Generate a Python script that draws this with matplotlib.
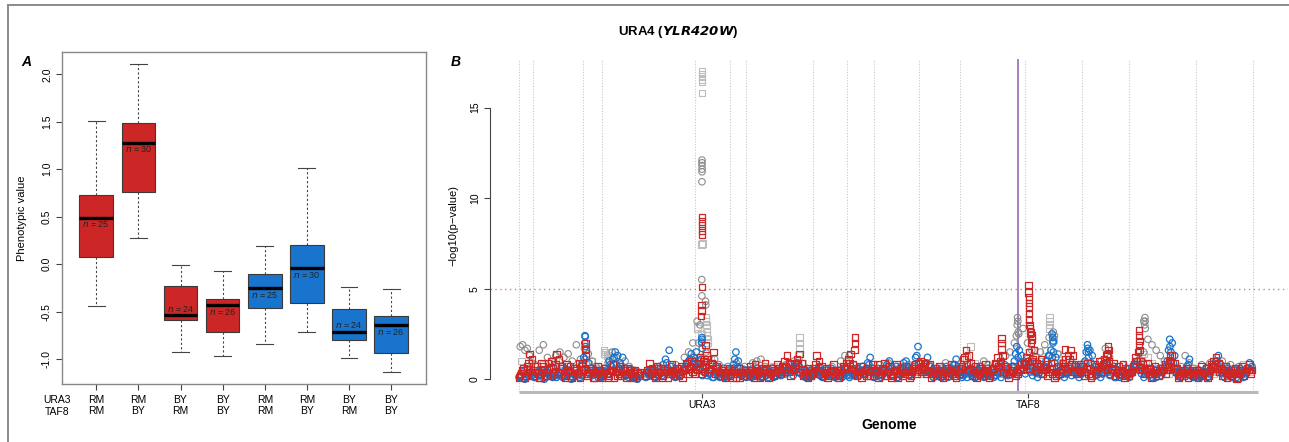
import numpy as np
import matplotlib
matplotlib.use("Agg")
import matplotlib.pyplot as plt
from matplotlib.lines import Line2D

nan = np.nan
W, H = 1289, 442

# ---------------- Panel A data ----------------
ura3_geno = ["RM", "RM", "BY", "BY", "RM", "RM", "BY", "BY"]
taf8_geno = ["RM", "BY", "RM", "BY", "RM", "BY", "RM", "BY"]
whisker_low = [-0.44, 0.28, -0.93, -0.97, -0.84, -0.72, -0.99, -1.14]
q1 = [0.08, 0.76, -0.59, -0.71, -0.46, -0.41, -0.80, -0.94]
median = [0.49, 1.28, -0.54, -0.43, -0.25, -0.04, -0.71, -0.64]
q3 = [0.73, 1.49, -0.23, -0.37, -0.10, 0.20, -0.47, -0.55]
whisker_high = [1.51, 2.11, -0.01, -0.07, 0.19, 1.01, -0.24, -0.26]
n_counts = [25, 30, 24, 26, 25, 30, 24, 26]
n_label_y = [0.42, 1.21, -0.47, -0.50, -0.32, -0.11, -0.64, -0.71]

# ---------------- Panel B data ----------------
chrom_len_kb = [230, 813, 317, 1532, 577, 270, 1091, 563, 440, 746, 667,
                1078, 924, 784, 1091, 948, 86]
gene_names = ["URA3", "TAF8"]
gene_chrom = [5, 13]
gene_kb = [116, 46]
target_chrom, target_kb = 12, 958   # URA4 (YLR420W)
threshold = 5

red_base = [
    [0.2, 0.5, 0.1, 0.7, 1.4, 1.1],
    [0.4, 0.7, 0.1, 0.9, 0.5, 0.2, 0.6, 1.0, 0.3, 1.4, 1.1, 0.7, 0.2, 0.8, 0.5, 0.1, 0.6, 0.3, 0.9, 0.7],
    [0.5, 1.3, 0.3, 0.6, 0.1, 0.4, 0.7, 0.2],
    [0.3, 0.6, 0.1, 0.5, 0.8, 0.4, 0.2, 0.7, 0.5, 0.3, 0.6, 0.4, 0.1, 0.5, 0.3, 0.4, nan, nan, 0.5, 0.9,
     0.6, 0.2, 0.7, 0.4, 0.1, 0.6, 0.5, 0.3, 0.8, 0.4, 0.6, 0.2, 0.7, 0.5, 0.9, 0.6, 1.0, 0.8],
    [0.6, 0.9, 0.3, 1.0, 0.8, 0.6, 0.9, 1.5, 0.7, 0.4, 0.5, 0.2, 0.4, 0.6],
    [0.3, 0.5, 0.1, 0.6, 0.4, 0.2, 0.5],
    [0.4, 0.7, 0.2, 0.8, 0.5, 0.1, 0.6, 0.9, 0.4, 0.3, 0.6, 0.5, 0.8, 0.4, 0.7, 1.0, 1.3, 0.9, 0.6, 0.8,
     1.1, 1.4, 0.9, 0.5, 0.2, 0.6, 0.4],
    [0.6, 1.3, 1.0, 0.7, 0.4, 0.6, 0.2, 0.5, 0.8, 0.4, 0.1, 0.5, 0.7, 0.9],
    [1.1, 1.4, 0.8, 0.6, 0.4, 0.7, 0.3, 0.5, 0.6, 0.2, 0.8],
    [0.5, 0.8, 0.3, 0.6, 0.9, 0.4, 0.7, 0.1, 0.5, 0.8, 0.3, 0.6, 0.4, 0.7, 0.5, 0.2, 0.6, 0.8, 0.9],
    [1.0, 0.7, 0.9, 0.5, 0.8, 0.3, 0.6, 0.4, 0.7, 0.5, 0.2, 0.6, 0.4, 0.8, 0.5, 0.1, 0.6],
    [0.6, 1.1, 1.6, 1.3, 0.9, 0.5, 0.7, 0.3, 0.6, 0.4, 0.8, 0.5, 0.2, 0.6, 0.9, 1.2, 1.0, 1.3, 0.7, 0.6,
     0.3, 0.5, 0.7, 0.4, 0.6, 0.8, 0.9],
    [1.2, 1.5, 1.0, 1.6, 0.9, 0.7, 1.1, 0.6, 0.8, 0.4, 0.9, 0.6, 0.2, 0.7, 0.5, 0.9, 1.1, 0.6, 1.6, 1.3,
     0.7, 0.5, 0.8],
    [0.7, 0.4, 0.9, 0.6, 0.2, 0.8, 0.5, 1.0, 0.7, 1.1, 1.3, 1.0, 0.6, 0.9, 0.4, 0.7, 0.5, 0.8, 0.2, 0.6],
    [0.4, 0.7, 1.2, 1.5, 1.0, 0.8, 0.5, 0.9, 0.6, 0.3, 0.7, 0.5, 0.4, 0.6, 0.8, 0.5, 1.0, 1.3, 0.9, 0.6,
     0.2, 0.5, 0.4, 0.6, 0.3, 0.5, 0.4],
    [0.5, 0.3, 0.7, 0.4, 0.6, 0.2, 0.8, 1.0, 1.2, 0.9, 0.6, 0.4, 0.7, 0.3, 0.5, 0.4, 0.6, 0.1, 0.5, 0.7,
     0.4, 0.6, 0.8, 0.5],
]
red_base2 = [
    [0.1, 0.3, 0.6, 0.2, 0.9, 0.4],
    [0.2, 0.5, 0.3, 0.1, 0.7, 0.4, 0.9, 0.2, 0.6, 0.8, 0.4, 0.3, 0.6, 0.1, 0.4, 0.7, 0.2, 0.5, 0.3, 0.1],
    [0.9, 0.6, 0.2, 0.4, 0.5, 0.1, 0.3, 0.5],
    [0.1, 0.4, 0.3, 0.2, 0.5, 0.1, 0.4, 0.3, 0.2, 0.6, 0.1, 0.3, 0.5, 0.2, 0.1, 0.2, nan, nan, 0.2, 0.4,
     0.3, 0.5, 0.1, 0.3, 0.6, 0.2, 0.4, 0.1, 0.3, 0.5, 0.2, 0.4, 0.3, 0.1, 0.5, 0.3, 0.7, 0.4],
    [0.3, 0.5, 1.2, 0.6, 0.4, 1.1, 0.5, 0.8, 0.3, 0.6, 0.2, 0.4, 0.1, 0.3],
    [0.2, 0.1, 0.4, 0.3, 0.1, 0.4, 0.2],
    [0.2, 0.3, 0.5, 0.1, 0.3, 0.4, 0.2, 0.5, 0.6, 0.1, 0.3, 0.2, 0.4, 0.6, 0.3, 0.5, 0.7, 0.4, 0.2, 0.5,
     0.6, 0.9, 0.4, 0.2, 0.3, 0.1, 0.2],
    [0.3, 0.8, 0.5, 0.3, 0.2, 0.3, 0.1, 0.4, 0.5, 0.2, 0.3, 0.2, 0.4, 0.6],
    [0.7, 0.9, 0.5, 0.3, 0.2, 0.4, 0.1, 0.3, 0.2, 0.4, 0.5],
    [0.2, 0.4, 0.1, 0.3, 0.5, 0.2, 0.4, 0.3, 0.2, 0.5, 0.1, 0.3, 0.2, 0.4, 0.3, 0.1, 0.4, 0.5, 0.3],
    [0.5, 0.4, 0.6, 0.3, 0.4, 0.1, 0.3, 0.2, 0.5, 0.3, 0.1, 0.4, 0.2, 0.5, 0.3, 0.2, 0.4],
    [0.3, 0.7, 1.2, 0.8, 0.5, 0.2, 0.4, 0.1, 0.3, 0.2, 0.5, 0.3, 0.1, 0.4, 0.6, 0.8, 0.7, 0.9, 0.4, 0.3,
     0.1, 0.3, 0.4, 0.2, 0.3, 0.5, 0.6],
    [0.8, 1.0, 0.6, 1.1, 0.5, 0.4, 0.7, 0.3, 0.5, 0.2, 0.6, 0.3, 0.1, 0.4, 0.3, 0.6, 0.7, 0.4, 1.1, 0.8,
     0.4, 0.3, 0.5],
    [0.4, 0.2, 0.6, 0.3, 0.1, 0.5, 0.3, 0.7, 0.4, 0.8, 0.9, 0.6, 0.3, 0.5, 0.2, 0.4, 0.3, 0.5, 0.1, 0.3],
    [0.2, 0.4, 0.8, 1.0, 0.6, 0.5, 0.3, 0.6, 0.3, 0.1, 0.4, 0.3, 0.2, 0.4, 0.5, 0.3, 0.7, 0.9, 0.6, 0.4,
     0.1, 0.3, 0.2, 0.4, 0.1, 0.3, 0.2],
    [0.3, 0.1, 0.4, 0.2, 0.4, 0.1, 0.5, 0.7, 0.8, 0.6, 0.4, 0.2, 0.5, 0.1, 0.3, 0.2, 0.4, 0.0, 0.3, 0.5,
     0.2, 0.4, 0.5, 0.3],
]
red_peak_chrom = [3, 3, 5, 5, 5, 5, 5, 5, 5, 5, 5, 5, 5, 5, 9, 9, 9, 12, 12, 12,
                  13, 13, 13, 13, 13, 13, 13, 13, 13, 13, 13, 13, 13, 13, 13, 13, 13,
                  14, 14, 14, 15, 15, 15, 15, 15, 15, 15]
red_peak_kb = [49, 52, 112, 114, 116, 118, 115, 113, 104, 106, 102, 175, 190, 160, 134, 130, 120, 687, 690, 684,
               55, 55, 57, 60, 62, 58, 64, 70, 80, 90, 100, 110, 75, 95, 140, 650, 700,
               437, 440, 430, 160, 163, 166, 158, 170, 668, 672]
red_peak_val = [2.0, 1.6, 8.95, 8.7, 8.5, 8.2, 8.0, 5.1, 4.1, 3.8, 3.5, 1.9, 1.3, 1.1, 2.3, 2.0, 1.6, 2.25, 2.0, 1.65,
                5.2, 4.8, 4.55, 4.2, 4.0, 3.6, 3.3, 3.0, 2.8, 2.6, 2.4, 2.2, 2.5, 2.0, 1.6, 1.65, 1.3,
                1.8, 1.6, 1.4, 2.7, 2.4, 2.1, 1.9, 1.6, 1.3, 1.05]

blue_base = [
    [0.2, 0.4, 0.0, 0.3, 0.5, 0.2],
    [0.1, 0.3, 0.2, 0.5, 0.0, 0.4, 0.2, 0.6, 0.3, 0.1, 0.4, 0.7, 0.2, 0.3, 0.5, 0.0, 0.3, 0.6, 0.4, 0.2],
    [1.2, 1.6, 0.9, 0.6, 0.3, 0.5, 0.1, 0.4],
    [0.2, 0.4, 0.3, 0.8, 1.1, 1.5, 1.3, 0.9, 1.2, 0.6, 0.3, 0.5, 0.1, 0.4, 0.0, 0.3, nan, nan, 0.4, 0.2,
     0.5, 0.3, 0.6, 0.4, 0.2, 0.5, 0.9, 1.6, 0.7, 0.3, 0.5, 0.2, 0.4, 0.6, 0.8, 1.0, 1.4, 1.2],
    [1.5, 1.0, 1.1, 0.4, 0.6, 0.3, 0.5, 0.1, 0.7, 0.4, 0.3, 0.6, 0.2, 0.5],
    [0.4, 0.8, 1.5, 1.0, 0.6, 0.3, 0.5],
    [0.3, 0.5, 0.2, 0.4, 0.6, 0.3, 0.1, 0.5, 0.4, 0.3, 0.6, 0.2, 0.4, 0.5, 0.3, 0.7, 0.5, 0.8, 0.6, 0.4,
     0.9, 0.7, 0.5, 0.3, 0.4, 0.1, 0.5],
    [0.3, 0.5, 0.7, 0.4, 0.1, 0.5, 0.3, 0.6, 0.4, 0.2, 0.5, 0.3, 0.4, 0.6],
    [0.4, 0.2, 0.5, 0.3, 0.6, 0.4, 0.7, 0.5, 0.9, 1.2, 0.6],
    [0.3, 0.6, 0.4, 0.2, 0.5, 0.8, 1.0, 0.6, 0.4, 0.7, 0.3, 0.5, 0.9, 1.0, 0.6, 0.4, 0.7, 1.2, 1.8],
    [0.9, 0.6, 0.8, 1.2, 0.7, 0.5, 0.3, 0.6, 0.4, 0.1, 0.5, 0.7, 0.3, 0.6, 0.8, 1.1, 0.5],
    [0.4, 0.2, 0.5, 0.3, 0.6, 0.4, 0.1, 0.5, 0.7, 0.3, 0.4, 0.6, 0.3, 0.5, 0.2, 0.4, 0.6, 0.3, 0.8, 0.5,
     0.4, 0.7, 1.0, 1.8, 1.6, 1.3, 0.9],
    [0.5, 1.0, 0.7, 0.4, 0.6, 0.3, 0.8, 0.5, 1.0, 1.3, 1.6, 1.5, 1.2, 0.6, 0.4, 0.7, 0.3, 0.5, 0.6, 0.4,
     0.8, 0.5, 0.3],
    [0.5, 1.0, 1.9, 1.6, 1.3, 0.7, 0.4, 0.6, 0.3, 0.5, 0.8, 0.6, 0.4, 0.7, 0.1, 0.5, 0.2, 0.4, 0.6, 0.3],
    [0.3, 0.5, 0.8, 1.0, 0.7, 0.5, 0.3, 0.6, 0.4, 0.1, 0.5, 0.3, 0.6, 0.4, 0.7, 1.0, 2.2, 2.0, 1.3, 0.6,
     0.4, 0.3, 0.5, 0.7, 1.1, 0.4, 0.2],
    [0.3, 0.5, 0.2, 0.4, 0.6, 0.3, 0.5, 0.7, 1.0, 1.3, 0.8, 0.5, 0.3, 0.6, 0.4, 0.1, 0.5, 0.3, 0.6, 0.4,
     0.3, 0.6, 0.9, 0.7],
]
blue_base2 = [
    [0.1, 0.2, 0.3, 0.1, 0.2, 0.4],
    [0.3, 0.1, 0.4, 0.2, 0.3, 0.1, 0.5, 0.2, 0.1, 0.4, 0.2, 0.3, 0.1, 0.5, 0.2, 0.3, 0.1, 0.2, 0.3, 0.1],
    [0.8, 1.1, 0.5, 0.3, 0.2, 0.3, 0.4, 0.2],
    [0.1, 0.2, 0.5, 1.0, 0.7, 1.2, 0.8, 0.6, 0.4, 0.3, 0.2, 0.1, 0.3, 0.2, 0.1, 0.2, nan, nan, 0.1, 0.3,
     0.2, 0.4, 0.1, 0.2, 0.3, 0.8, 1.1, 0.6, 0.4, 0.2, 0.1, 0.3, 0.2, 0.5, 0.6, 0.9, 1.1, 0.8],
    [1.0, 0.7, 0.6, 0.2, 0.4, 0.2, 0.3, 0.1, 0.4, 0.2, 0.1, 0.3, 0.1, 0.3],
    [0.2, 0.5, 1.1, 0.7, 0.3, 0.2, 0.3],
    [0.1, 0.3, 0.1, 0.2, 0.4, 0.2, 0.1, 0.3, 0.2, 0.1, 0.4, 0.1, 0.2, 0.3, 0.2, 0.4, 0.3, 0.5, 0.4, 0.2,
     0.6, 0.4, 0.3, 0.2, 0.1, 0.2, 0.3],
    [0.2, 0.3, 0.4, 0.2, 0.1, 0.3, 0.2, 0.4, 0.2, 0.1, 0.3, 0.2, 0.1, 0.3],
    [0.2, 0.1, 0.3, 0.2, 0.4, 0.2, 0.5, 0.3, 0.6, 0.8, 0.4],
    [0.1, 0.4, 0.2, 0.1, 0.3, 0.5, 0.7, 0.4, 0.2, 0.5, 0.1, 0.3, 0.6, 0.7, 0.4, 0.2, 0.5, 0.8, 1.3],
    [0.6, 0.4, 0.5, 0.9, 0.4, 0.3, 0.1, 0.4, 0.2, 0.1, 0.3, 0.5, 0.1, 0.4, 0.5, 0.8, 0.3],
    [0.2, 0.1, 0.3, 0.1, 0.4, 0.2, 0.1, 0.3, 0.5, 0.2, 0.1, 0.4, 0.2, 0.3, 0.1, 0.2, 0.4, 0.1, 0.5, 0.3,
     0.2, 0.5, 0.7, 1.4, 1.2, 0.9, 0.6],
    [0.3, 0.7, 0.4, 0.2, 0.4, 0.1, 0.5, 0.3, 0.7, 1.0, 1.3, 1.2, 0.9, 0.4, 0.2, 0.5, 0.1, 0.3, 0.4, 0.2,
     0.5, 0.3, 0.1],
    [0.3, 0.7, 1.5, 1.2, 0.9, 0.5, 0.2, 0.4, 0.1, 0.3, 0.5, 0.4, 0.2, 0.5, 0.1, 0.3, 0.1, 0.2, 0.4, 0.2],
    [0.1, 0.3, 0.5, 0.7, 0.5, 0.3, 0.1, 0.4, 0.2, 0.1, 0.3, 0.1, 0.4, 0.2, 0.5, 0.7, 1.6, 1.5, 0.9, 0.4,
     0.2, 0.1, 0.3, 0.5, 0.8, 0.2, 0.1],
    [0.1, 0.3, 0.1, 0.2, 0.4, 0.1, 0.3, 0.5, 0.7, 1.0, 0.6, 0.3, 0.1, 0.4, 0.2, 0.1, 0.3, 0.1, 0.4, 0.2,
     0.1, 0.4, 0.6, 0.5],
]
blue_peak_chrom = [3, 3, 3, 3, 5, 5, 5, 5, 13, 13, 13, 13, 14, 14, 15]
blue_peak_kb = [41, 44, 38, 47, 114, 117, 112, 120, 440, 450, 460, 455, 105, 115, 670]
blue_peak_val = [2.4, 2.35, 2.0, 1.8, 2.3, 2.2, 2.05, 1.7, 2.5, 2.3, 2.1, 2.0, 1.7, 1.5, 1.8]

dgray_base = [
    [1.8, 1.9, 1.6, 1.7, 1.3, 0.9],
    [0.8, 1.6, 1.9, 1.2, 1.0, 1.3, 1.5, 1.2, 1.4, 1.0, 1.9, 1.1],
    [1.7, 1.4, 1.0, 0.7, 0.5],
    [0.6, 0.9, 1.5, 1.2, 0.8, 1.0, 0.7, 0.5, 0.4, nan, 0.3, 0.5, 0.4, 0.7, 0.5, 0.6, 0.3, 0.8, 0.6, 1.2,
     1.5, 2.0],
    [3.2, 2.0, 1.5, 0.9, 1.1, 0.8, 0.5, 0.7],
    [0.6, 0.9, 0.4, 0.7],
    [0.5, 0.9, 1.0, 1.1, 0.7, 0.4, 0.6, 0.3, 0.5, 0.8, 0.6, 1.0, 0.7, 0.4, 0.6, 0.5],
    [0.4, 0.6, 0.3, 0.5, 0.7, 0.4, 1.0, 1.3],
    [1.3, 0.8, 0.5, 0.7, 0.4, 0.6],
    [0.5, 0.8, 0.4, 0.9, 0.6, 0.3, 0.7, 0.5, 0.8, 0.6, 0.4],
    [0.6, 0.4, 0.8, 0.5, 0.3, 0.6, 0.9, 0.5, 0.4, 0.7],
    [0.5, 0.8, 0.6, 0.4, 0.7, 1.0, 0.8, 0.5, 0.6, 0.9, 1.3, 1.5, 2.0, 2.5, 2.8],
    [2.0, 1.6, 1.2, 1.5, 1.9, 2.3, 2.6, 1.4, 0.9, 0.6, 0.8, 0.5, 0.7],
    [0.9, 0.6, 0.8, 0.5, 1.0, 1.7, 1.2, 0.7, 0.5, 0.8, 0.6],
    [0.5, 0.8, 1.1, 1.5, 2.2, 1.9, 1.6, 1.3, 1.0, 0.8, 0.6, 0.5, 0.7, 1.3, 0.9, 0.6],
    [0.5, 0.8, 0.6, 0.9, 0.4, 0.7, 1.0, 0.6, 0.8, 0.5, 0.7, 0.4, 0.6, 0.5],
]
dgray_peak_chrom = [5, 5, 5, 5, 5, 5, 5, 5, 5, 5, 5, 5, 12, 12, 12, 12, 12, 13, 15, 15, 15, 15, 15]
dgray_peak_kb = [116, 116, 115, 117, 116, 115, 112, 114, 175, 178, 80, 60, 950, 955, 945, 960, 930, 478,
                 259, 262, 256, 265, 240]
dgray_peak_val = [12.1, 11.95, 11.8, 11.6, 11.45, 10.9, 5.5, 4.6, 4.3, 4.1, 3.0, 2.0, 3.4, 3.2, 3.0, 2.6, 2.4,
                  2.4, 3.4, 3.2, 3.0, 2.8, 3.2]

lgray_base = [
    [1.0, 0.6, 0.4],
    [0.3, 0.5, 0.8, 0.4, 0.6, 1.0, 0.5, 0.3, 0.7, 0.4, 0.6, 0.3],
    [0.5, 0.8, 1.0, 0.6, 0.4],
    [1.4, 1.2, 0.9, 0.6, 0.4, 0.3, 0.5, 0.4, 0.2, nan, 0.3, 0.5, 0.6, 0.4, 0.2, 0.5, 0.7, 0.4, 0.3, 0.6,
     0.5, 0.8],
    [1.2, 2.5, 1.8, 1.1, 0.6, 0.4, 0.3, 0.5],
    [0.4, 0.3, 0.6, 0.2],
    [0.3, 0.5, 0.4, 0.6, 0.3, 0.5, 0.7, 0.4, 0.3, 0.6, 0.5, 0.8, 1.3, 0.9, 0.5, 0.4],
    [0.3, 0.5, 0.4, 0.6, 0.3, 0.5, 0.4, 0.6],
    [0.4, 0.6, 0.3, 0.5, 0.4, 0.3],
    [0.3, 0.5, 0.2, 0.4, 0.6, 0.3, 0.5, 0.4, 0.3, 0.6, 0.4],
    [0.3, 0.5, 0.4, 0.2, 0.5, 0.3, 0.6, 0.4, 0.3, 0.5],
    [0.5, 1.2, 1.8, 0.9, 0.5, 0.3, 0.6, 0.4, 0.3, 0.5, 0.7, 0.4, 0.6, 0.8, 1.0],
    [0.6, 0.9, 1.2, 1.0, 1.6, 2.8, 2.2, 1.4, 0.8, 0.5, 0.4, 0.6, 0.3],
    [0.4, 0.6, 0.3, 0.5, 0.7, 0.4, 0.3, 0.6, 0.4, 0.5, 0.3],
    [0.4, 0.7, 1.0, 1.4, 1.2, 0.9, 0.6, 0.4, 0.5, 0.3, 0.6, 0.4, 0.5, 0.3, 0.4, 0.6],
    [0.3, 0.5, 0.4, 0.6, 0.3, 0.5, 0.7, 0.4, 0.3, 0.6, 0.4, 0.8, 0.5, 0.4],
]
lgray_peak_chrom = [4, 4, 4, 4, 4, 5, 5, 5, 5, 5, 5, 5, 5, 5, 5, 5, 5, 5, 5, 5, 5, 5, 5,
                    7, 7, 7, 13, 13, 13]
lgray_peak_kb = [40, 60, 90, 120, 150, 116, 117, 115, 116, 118, 115, 108, 124, 40, 45,
                 180, 183, 186, 190, 195, 200, 205, 210, 872, 875, 870, 396, 398, 400]
lgray_peak_val = [1.6, 1.5, 1.3, 1.1, 1.5, 17.0, 16.85, 16.7, 16.55, 16.4, 15.8, 7.45, 7.5, 2.9, 2.8,
                  3.4, 3.2, 3.0, 2.8, 2.6, 2.4, 2.2, 2.0, 2.3, 2.0, 1.7, 3.4, 3.2, 3.0]

# ---------------- helpers ----------------
chrom_start = np.concatenate([[0], np.cumsum(chrom_len_kb)[:-1]])
genome_total = float(np.sum(chrom_len_kb))
n_nuclear = 16


def base_xy(base, offset):
    xs, ys = [], []
    for c, vals in enumerate(base):
        n = len(vals)
        for i, v in enumerate(vals):
            xs.append(chrom_start[c] + (i + offset) / n * chrom_len_kb[c])
            ys.append(v)
    return xs, ys


def series_xy(bases, pk_chrom, pk_kb, pk_val):
    xs, ys = [], []
    for base, off in bases:
        bx, by = base_xy(base, off)
        xs += bx
        ys += by
    for c, k, v in zip(pk_chrom, pk_kb, pk_val):
        xs.append(chrom_start[c - 1] + k)
        ys.append(v)
    return np.array(xs), np.array(ys)


# ---------------- figure ----------------
fig = plt.figure(figsize=(W / 100, H / 100), dpi=100)
plt.rcParams['font.family'] = ['Liberation Sans', 'DejaVu Sans']

# figure frame
frame_col = '#8a8a8a'
fig.add_artist(Line2D([8 / W, 1], [1 - 5 / H, 1 - 5 / H], transform=fig.transFigure, color=frame_col, lw=1.4))
fig.add_artist(Line2D([8 / W, 8 / W], [0, 1 - 5 / H], transform=fig.transFigure, color=frame_col, lw=1.4))

# ---- Panel A ----
axA = fig.add_axes([61.7 / W, 1 - 384 / H, (425.7 - 61.7) / W, (384 - 52.3) / H])
positions = np.arange(1, len(median) + 1)
stats = []
for i in range(len(median)):
    stats.append(dict(med=median[i], q1=q1[i], q3=q3[i], whislo=whisker_low[i], whishi=whisker_high[i], fliers=[]))
bp = axA.bxp(stats, positions=positions, widths=0.8, patch_artist=True, showfliers=False,
             boxprops=dict(edgecolor='#3a3a3a', linewidth=0.8),
             medianprops=dict(color='black', linewidth=2.4),
             whiskerprops=dict(color='#444444', linewidth=0.8, linestyle=(0, (2, 2))),
             capprops=dict(color='#444444', linewidth=0.8), capwidths=0.4)
for i, patch in enumerate(bp['boxes']):
    patch.set_facecolor('#CD2626' if i < 4 else '#1874CD')
for i in range(len(median)):
    axA.text(positions[i], n_label_y[i], r"$n$ = %d" % n_counts[i], ha='center', va='center', fontsize=6.5,
             color='#222222')
axA.set_xlim(0.18, 8.82)
axA.set_ylim(-1.263, 2.232)
axA.set_yticks([-1.0, -0.5, 0.0, 0.5, 1.0, 1.5, 2.0])
axA.set_yticklabels(["-1.0", "-0.5", "0.0", "0.5", "1.0", "1.5", "2.0"], rotation=90, va='center')
axA.set_xticks(positions)
axA.set_xticklabels([u + "\n" + t for u, t in zip(ura3_geno, taf8_geno)], fontsize=7.5, linespacing=1.15)
axA.tick_params(axis='y', labelsize=7.5, length=4, width=0.8, color='#444444', pad=3)
axA.tick_params(axis='x', length=4, width=0.8, color='#444444', pad=4)
for s in axA.spines.values():
    s.set_color('#888888')
    s.set_linewidth(1.0)
fig.text(57 / W, 1 - 406 / H, "URA3\nTAF8", ha='center', va='center', fontsize=7.5, linespacing=1.15)
fig.text(22 / W, 1 - 218 / H, "Phenotypic value", rotation=90, ha='center', va='center', fontsize=8)
fig.text(26 / W, 1 - 62 / H, "A", ha='center', va='center', fontsize=10, fontweight='bold', fontstyle='italic')

# ---- Panel B ----
axB = fig.add_axes([489.5 / W, 1 - 391.5 / H, (1288 - 489.5) / W, (391.5 - 59) / H])
pad = 0.04 * genome_total
axB.set_xlim(-pad, genome_total + pad)
axB.set_ylim(-0.68, 17.68)

bounds = list(chrom_start[:n_nuclear]) + [chrom_start[n_nuclear - 1] + chrom_len_kb[n_nuclear - 1]]
for b in bounds:
    axB.axvline(b, color='#c8c8c8', lw=0.8, linestyle=(0, (1, 1.5)), zorder=1)
axB.axhline(threshold, color='#c08a8a', lw=1.0, linestyle=(0, (1, 2.5)), zorder=1)
axB.axvline(chrom_start[target_chrom - 1] + target_kb, color='#a47fc0', lw=1.4, zorder=1)

ms = 22
x, y = series_xy([(lgray_base, 0.5)], lgray_peak_chrom, lgray_peak_kb, lgray_peak_val)
axB.scatter(x, y, s=ms, marker='s', facecolors='none', edgecolors='#bdbdbd', linewidths=0.8, zorder=2)
x, y = series_xy([(dgray_base, 0.5)], dgray_peak_chrom, dgray_peak_kb, dgray_peak_val)
axB.scatter(x, y, s=ms, marker='o', facecolors='none', edgecolors='#8c8c8c', linewidths=0.8, zorder=3)
x, y = series_xy([(blue_base, 0.5), (blue_base2, 0.0)], blue_peak_chrom, blue_peak_kb, blue_peak_val)
axB.scatter(x, y, s=ms, marker='o', facecolors='none', edgecolors='#1874CD', linewidths=0.9, zorder=4)
x, y = series_xy([(red_base, 0.5), (red_base2, 0.0)], red_peak_chrom, red_peak_kb, red_peak_val)
axB.scatter(x, y, s=ms, marker='s', facecolors='none', edgecolors='#CD2626', linewidths=0.9, zorder=5)

for s in ['top', 'right', 'bottom']:
    axB.spines[s].set_visible(False)
axB.spines['left'].set_bounds(0, 15)
axB.spines['left'].set_color('#444444')
axB.spines['left'].set_linewidth(0.8)
axB.set_yticks([0, 5, 10, 15])
axB.set_yticklabels(["0", "5", "10", "15"], rotation=90, va='center')
axB.tick_params(axis='y', labelsize=7.5, length=4, width=0.8, color='#444444', pad=3)

axB.plot([0, genome_total], [-0.68, -0.68], color='#b8b8b8', lw=2.2, clip_on=False, zorder=6,
         solid_capstyle='butt')
gx = [chrom_start[c - 1] + k for c, k in zip(gene_chrom, gene_kb)]
axB.set_xticks(gx)
axB.set_xticklabels(gene_names, fontsize=7.5)
axB.tick_params(axis='x', length=4, width=0.8, color='#444444', pad=2)
axB.set_xlabel("Genome", fontsize=10, fontweight='bold', labelpad=6)
fig.text(453 / W, 1 - 225 / H, "\u2212log10(p\u2212value)", rotation=90, ha='center', va='center', fontsize=8)
fig.text(456 / W, 1 - 62 / H, "B", ha='center', va='center', fontsize=10, fontweight='bold', fontstyle='italic')

fig.text(678 / W, 1 - 32 / H, r"URA4 ($\mathbfit{YLR420W}$)", ha='center', va='center', fontsize=9.5,
         fontweight='bold')

fig.savefig("out.png", dpi=100)
